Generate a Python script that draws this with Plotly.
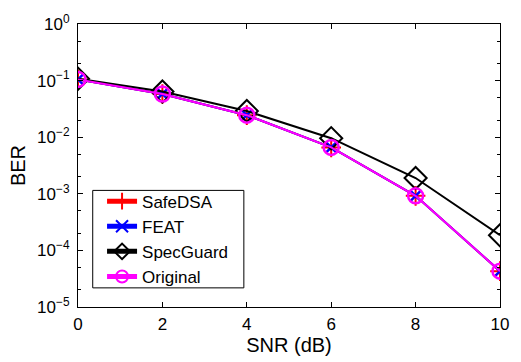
import plotly.graph_objects as go

snr = [0, 2, 4, 6, 8, 10]
safedsa = [0.105, 0.058, 0.0245, 0.0066, 0.00092, 4.3e-5]
feat = [0.105, 0.058, 0.0245, 0.0066, 0.00092, 4.3e-5]
specguard = [0.108, 0.064, 0.029, 0.0096, 0.0019, 1.85e-4]
original = [0.105, 0.058, 0.0245, 0.0066, 0.00092, 4.3e-5]

ytick_vals = [1e-5, 1e-4, 1e-3, 1e-2, 1e-1, 1e0]
ytick_text = ["10<sup>−5</sup>", "10<sup>−4</sup>", "10<sup>−3</sup>",
              "10<sup>−2</sup>", "10<sup>−1</sup>", "10<sup>0</sup>"]
xtick_vals = [0, 2, 4, 6, 8, 10]

fam = "Liberation Sans, Arial, sans-serif"
tickfont = dict(family=fam, size=17, color="black")
titlefont = dict(family=fam, size=20, color="black")

fig = go.Figure()
fig.add_trace(go.Scatter(x=snr, y=safedsa, name="SafeDSA", mode="lines+markers",
                         line=dict(color="red", width=2),
                         marker=dict(symbol="cross-thin-open", size=14,
                                     line=dict(color="red", width=2))))
fig.add_trace(go.Scatter(x=snr, y=feat, name="FEAT", mode="lines+markers",
                         line=dict(color="blue", width=2),
                         marker=dict(symbol="x-thin-open", size=11,
                                     line=dict(color="blue", width=2.5))))
fig.add_trace(go.Scatter(x=snr, y=specguard, name="SpecGuard", mode="lines+markers",
                         line=dict(color="black", width=2),
                         marker=dict(symbol="diamond-open", size=17,
                                     line=dict(color="black", width=2))))
fig.add_trace(go.Scatter(x=snr, y=original, name="Original", mode="lines+markers",
                         line=dict(color="magenta", width=2),
                         marker=dict(symbol="circle-open", size=15,
                                     line=dict(color="magenta", width=2.5))))

# legend frame drawn as a shape (wider than plotly's auto legend box)
fig.add_shape(type="rect", xref="paper", yref="paper",
              x0=0.0349, x1=0.393, y0=0.0676, y1=0.412,
              line=dict(color="black", width=1), fillcolor="white", layer="above")

fig.update_layout(
    width=521, height=362,
    margin=dict(l=78, r=13, t=14, b=52),
    paper_bgcolor="white", plot_bgcolor="white",
    font=tickfont,
    showlegend=True,
    legend=dict(x=0.057, y=0.436, xanchor="left", yanchor="top",
                borderwidth=0, bgcolor="rgba(0,0,0,0)",
                font=dict(family=fam, size=17, color="black"),
                tracegroupgap=0, itemsizing="constant"),
)
fig.update_xaxes(range=[0, 10], tickvals=xtick_vals, ticks="inside",
                 ticklen=5, tickcolor="black", showline=True, linecolor="black",
                 linewidth=1, mirror="allticks", showgrid=False, zeroline=False,
                 title=dict(text="SNR (dB)", standoff=2, font=titlefont),
                 tickfont=tickfont, ticklabelstandoff=2)
fig.update_yaxes(type="log", range=[-5, 0], tickvals=ytick_vals, ticktext=ytick_text,
                 ticks="inside", ticklen=5, tickcolor="black", showline=True,
                 linecolor="black", linewidth=1, mirror="allticks", showgrid=False,
                 zeroline=False, title=dict(text="BER", standoff=6, font=titlefont),
                 tickfont=tickfont, ticklabelstandoff=4,
                 minor=dict(ticks="inside", ticklen=3, tickcolor="black", showgrid=False))
fig.write_html("out.html", config={"displayModeBar": False},
               post_script="document.body.style.margin='0';")
